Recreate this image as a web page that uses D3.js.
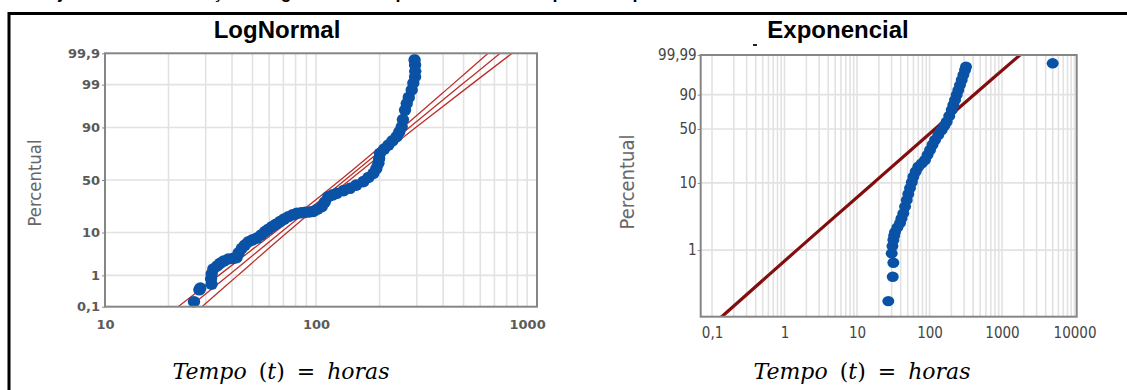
<!DOCTYPE html>
<html>
<head>
<meta charset="utf-8">
<script src="https://d3js.org/d3.v7.min.js"></script>
<style>
body { margin: 0; background: #fff; }
svg { display: block; }
.eixoL .tick text { font-family: "DejaVu Sans", sans-serif; font-size: 13px; font-weight: 600; fill: #5a5a5a; }
.eixoR .tick text { font-family: "DejaVu Sans Condensed", "DejaVu Sans", sans-serif; font-stretch: condensed; font-size: 15px; fill: #444; }
.tick line { stroke: #888; }
</style>
</head>
<body>
<script>
// LogNormal: pontos (tempo em horas, percentual)
var lnTempo = [26.4, 28.0, 28.3, 32.0, 31.8, 32.0, 32.6, 34.0, 35.1, 36.5, 38.4, 40.5, 42.0, 43.0, 44.5, 46.0,
    47.8, 50.0, 52.4, 55.0, 57.3, 59.5, 61.7, 64.5, 67.5, 70.5, 73.9, 77.5, 81.0, 85.0, 88.7, 93.0, 97.1,
    101.5, 106.4, 110.0, 114.3, 120.0, 125.3, 135.0, 144.8, 155.0, 167.5, 177.0, 187.0, 193.0, 197.4, 199.0,
    201.0, 210.0, 220.0, 230.0, 241.0, 248.0, 254.6, 258.0, 264.0, 269.0, 275.0, 284.0, 289.0, 294.6, 295.0,
    294.6, 293.0];
var lnPerc = [0.15, 0.37, 0.42, 0.55, 0.8, 1.1, 1.5, 1.8, 2.1, 2.4, 2.7, 2.8, 2.9, 3.8, 4.8, 5.6,
    6.6, 7.2, 7.8, 9.0, 10.4, 11.5, 12.7, 14.0, 15.5, 17.0, 18.5, 19.8, 20.8, 21.2, 21.5, 21.8, 22.2,
    23.8, 25.7, 29.5, 34.2, 35.8, 37.3, 39.8, 42.0, 45.0, 48.4, 52.5, 56.5, 61.0, 65.8, 70.0,
    74.2, 77.5, 80.3, 83.0, 85.5, 88.0, 90.3, 93.0, 95.6, 96.9, 97.8, 98.6, 99.1, 99.41, 99.6,
    99.75, 99.83];

// LogNormal: reta ajustada e limites
var lnFitPerc = [0.1, 1, 10, 50, 90, 99, 99.9];
var lnFitTempo = [25.3, 38.4, 68.0, 137.2, 276.7, 490, 745];
var lnFitInf = [22.2, 34.6, 63.4, 130.4, 258, 442, 653];
var lnFitSup = [28.8, 42.6, 72.9, 144.3, 296.6, 543, 849];

var lnYTicks = [0.1, 1, 10, 50, 90, 99, 99.9];
var lnYLabels = ["0,1", "1", "10", "50", "90", "99", "99,9"];
var lnXTicks = [10, 100, 1000];

// Exponencial: pontos (tempo em horas, percentual)
var exTempo = [27.0, 31.1, 31.7, 30.1, 30.8, 31.7, 32.5, 33.4, 36.0, 39.2, 41.0, 43.5, 46.0, 48.5, 51.0, 53.8,
    57.0, 59.8, 64.5, 70.1, 78.0, 86.7, 94.0, 101.6, 110.0, 119.1, 132.0, 147.3, 160.0, 172.6, 187.0, 202.3,
    213.0, 224.7, 237.0, 249.6, 263.0, 278.0, 293.0, 309.0, 318.6, 5000];
var exPerc = [0.169, 0.395, 0.644, 0.894, 1.15, 1.42, 1.65, 1.87, 2.2, 2.56, 3.0, 3.57, 4.5, 5.62, 6.9, 8.42,
    10.2, 12.25, 14.5, 16.9, 18.8, 20.9, 24.5, 28.3, 33.0, 37.6, 43.0, 48.8, 54.0, 59.1, 66.5, 74.0,
    80.0, 85.2, 89.8, 93.3, 96.0, 97.86, 99.0, 99.57, 99.78, 99.898];

// Exponencial: reta ajustada e limites
var exFitPerc = [0.098, 1, 10, 50, 90, 99.99];
var exFitTempo = [0.136, 1.48, 16.9, 118.8, 411, 1771];
var exFitInf = [0.130, 1.41, 16.1, 113.4, 392, 1690];
var exFitSup = [0.143, 1.55, 17.7, 124.5, 431, 1855];

var exYTicks = [1, 10, 50, 90, 99.99];
var exYLabels = ["1", "10", "50", "90", "99,99"];
var exXTicks = [0.1, 1, 10, 100, 1000, 10000];
var exXLabels = ["0,1", "1", "10", "100", "1000", "10000"];

var width = 1127, height = 390;
var azul = "#0a52a5";

var svg = d3.select("body").append("svg")
    .attr("width", width)
    .attr("height", height);

// inversa da normal (Acklam)
function probit(p) {
    var a = [-3.969683028665376e+01, 2.209460984245205e+02, -2.759285104469687e+02, 1.383577518672690e+02, -3.066479806614716e+01, 2.506628277459239e+00];
    var b = [-5.447609879822406e+01, 1.615858368580409e+02, -1.556989798598866e+02, 6.680131188771972e+01, -1.328068155288572e+01];
    var c = [-7.784894002430293e-03, -3.223964580411365e-01, -2.400758277161838e+00, -2.549732539343734e+00, 4.374664141464968e+00, 2.938163982698783e+00];
    var d = [7.784695709041462e-03, 3.224671290700398e-01, 2.445134137142996e+00, 3.754408661907416e+00];
    var q, r;
    if (p < 0.02425) {
        q = Math.sqrt(-2 * Math.log(p));
        return (((((c[0]*q+c[1])*q+c[2])*q+c[3])*q+c[4])*q+c[5]) / ((((d[0]*q+d[1])*q+d[2])*q+d[3])*q+1);
    }
    if (p > 1 - 0.02425) {
        q = Math.sqrt(-2 * Math.log(1 - p));
        return -(((((c[0]*q+c[1])*q+c[2])*q+c[3])*q+c[4])*q+c[5]) / ((((d[0]*q+d[1])*q+d[2])*q+d[3])*q+1);
    }
    q = p - 0.5; r = q * q;
    return (((((a[0]*r+a[1])*r+a[2])*r+a[3])*r+a[4])*r+a[5])*q / (((((b[0]*r+b[1])*r+b[2])*r+b[3])*r+b[4])*r+1);
}
// escala do papel exponencial/weibull
function weib(p) { return Math.log(-Math.log(1 - p)); }

// moldura e legenda cortada no topo (so aparecem as pernas das letras)
svg.append("text")
    .attr("x", -44).attr("y", -2)
    .style("font-family", "Liberation Sans, Arial, sans-serif")
    .style("font-weight", "bold").style("font-size", "18px")
    .text("Figura 8 – Ajuste das distribuições LogNormal e Exponencial aos tempos de reparo");
svg.append("line").attr("x1", 9).attr("x2", 9).attr("y1", 12).attr("y2", height)
    .style("stroke", "#000").style("stroke-width", 3);
svg.append("line").attr("x1", 8).attr("x2", width).attr("y1", 13.5).attr("y2", 13.5)
    .style("stroke", "#000").style("stroke-width", 3);

var defs = svg.append("defs");

function painel(cfg) {
    var g = svg.append("g");
    var x = cfg.x, y = cfg.y;
    var x0 = x.range()[0], x1 = x.range()[1], yb = y.range()[0], yt = y.range()[1];

    defs.append("clipPath").attr("id", cfg.id)
        .append("rect").attr("x", x0).attr("y", yt).attr("width", x1 - x0).attr("height", yb - yt);

    // grade vertical
    g.selectAll("line.gv")
        .data(x.ticks().filter(function (d) { return d >= cfg.gridMin && x(d) < x1 - 1; }))
        .enter().append("line")
        .attr("x1", function (d) { return x(d); })
        .attr("x2", function (d) { return x(d); })
        .attr("y1", yt).attr("y2", yb)
        .style("stroke", "#e2e2e2").style("stroke-width", 1.6);

    // grade horizontal
    g.selectAll("line.gh")
        .data(cfg.yGrid)
        .enter().append("line")
        .attr("x1", x0).attr("x2", x1)
        .attr("y1", function (d) { return y(cfg.tr(d / 100)); })
        .attr("y2", function (d) { return y(cfg.tr(d / 100)); })
        .style("stroke", "#e2e2e2").style("stroke-width", 1.6);

    var linha = d3.line()
        .x(function (d) { return x(d[0]); })
        .y(function (d) { return y(cfg.tr(d[1] / 100)); })
        .curve(d3.curveCatmullRom);

    var ajuste = g.append("g").attr("clip-path", "url(#" + cfg.id + ")");
    if (cfg.tubo) {
        var area = d3.area()
            .x0(function (d) { return x(d[0]); })
            .x1(function (d) { return x(d[2]); })
            .y(function (d) { return y(cfg.tr(d[1] / 100)); })
            .curve(d3.curveCatmullRom);
        ajuste.append("path")
            .datum(cfg.fitPerc.map(function (p, i) { return [cfg.fitInf[i], p, cfg.fitSup[i]]; }))
            .attr("d", area)
            .style("fill", "#efc2c2").style("stroke", "#8b1212").style("stroke-width", 1.3);
        ajuste.append("path")
            .datum(cfg.fitPerc.map(function (p, i) { return [cfg.fitTempo[i], p]; }))
            .attr("d", linha)
            .style("fill", "none").style("stroke", "#7a0a0a").style("stroke-width", 1.6);
    } else {
        [cfg.fitInf, cfg.fitTempo, cfg.fitSup].forEach(function (serie) {
            ajuste.append("path")
                .datum(cfg.fitPerc.map(function (p, i) { return [serie[i], p]; }))
                .attr("d", linha)
                .style("fill", "none").style("stroke", "#bd2f2a").style("stroke-width", 1.3);
        });
    }

    // pontos
    g.selectAll("ellipse.pt")
        .data(cfg.tempo.map(function (t, i) { return [t, cfg.perc[i]]; }))
        .enter().append("ellipse")
        .attr("cx", function (d) { return x(d[0]); })
        .attr("cy", function (d) { return y(cfg.tr(d[1] / 100)); })
        .attr("rx", cfg.rx).attr("ry", cfg.ry)
        .style("fill", azul);

    // moldura do grafico
    g.append("rect")
        .attr("x", x0).attr("y", yt).attr("width", x1 - x0).attr("height", yb - yt)
        .style("fill", "none").style("stroke", "#868686").style("stroke-width", 2);

    // eixos
    var ey = g.append("g").attr("class", cfg.cls)
        .attr("transform", "translate(" + x0 + ",0)")
        .call(d3.axisLeft(y)
            .tickValues(cfg.yTicks.map(function (p) { return cfg.tr(p / 100); }))
            .tickFormat(function (d, i) { return cfg.yLabels[i]; })
            .tickSize(3).tickPadding(cfg.yPad));
    ey.select(".domain").remove();

    var ex = g.append("g").attr("class", cfg.cls)
        .attr("transform", "translate(0," + yb + ")")
        .call(d3.axisBottom(x)
            .tickValues(cfg.xTicks)
            .tickFormat(function (d, i) { return cfg.xLabels[i]; })
            .tickSize(0).tickPadding(cfg.xPad));
    ex.select(".domain").remove();

    // titulo
    g.append("text")
        .attr("x", cfg.titX).attr("y", 38)
        .attr("text-anchor", "middle")
        .style("font-family", "Liberation Sans, Arial, sans-serif")
        .style("font-weight", "bold").style("font-size", "24px")
        .text(cfg.titulo);

    // rotulo vertical
    g.append("text")
        .attr("transform", "translate(" + cfg.percX + "," + cfg.percY + ") rotate(-90)")
        .attr("text-anchor", "middle")
        .attr("textLength", cfg.percLen).attr("lengthAdjust", "spacingAndGlyphs")
        .style("font-family", "DejaVu Sans Condensed, DejaVu Sans, sans-serif")
        .style("font-size", cfg.percFs + "px").style("fill", "#666")
        .text("Percentual");

    // rotulo horizontal
    var tt = g.append("text")
        .attr("x", cfg.tempoX).attr("y", 379)
        .attr("text-anchor", "middle")
        .style("font-family", "DejaVu Serif, serif")
        .style("font-size", "22px")
        .style("word-spacing", "5px");
    tt.append("tspan").style("font-style", "italic").text("Tempo");
    tt.append("tspan").text(" (");
    tt.append("tspan").style("font-style", "italic").text("t");
    tt.append("tspan").text(") = ");
    tt.append("tspan").style("font-style", "italic").text("horas");
}

painel({
    id: "clipL", cls: "eixoL",
    x: d3.scaleLog().domain([10, 1114]).range([105, 537]),
    y: d3.scaleLinear().domain([probit(0.001), probit(0.999)]).range([306.7, 53.3]),
    tr: probit, gridMin: 10,
    yGrid: [1, 10, 50, 90, 99],
    tempo: lnTempo, perc: lnPerc,
    fitPerc: lnFitPerc, fitTempo: lnFitTempo, fitInf: lnFitInf, fitSup: lnFitSup, tubo: false,
    rx: 6.2, ry: 5.8,
    yTicks: lnYTicks, yLabels: lnYLabels, yPad: 2,
    xTicks: lnXTicks, xLabels: ["10", "100", "1000"], xPad: 13,
    titulo: "LogNormal", titX: 277,
    percX: 41, percY: 183, percLen: 87, percFs: 17,
    tempoX: 281
});

painel({
    id: "clipR", cls: "eixoR",
    x: d3.scaleLog().domain([0.0698, 10715]).range([700.7, 1076.7]),
    y: d3.scaleLinear().domain([weib(0.00098), weib(0.9999)]).range([316.7, 55]),
    tr: weib, gridMin: 0.1,
    yGrid: [1, 10, 50, 90],
    tempo: exTempo, perc: exPerc,
    fitPerc: exFitPerc, fitTempo: exFitTempo, fitInf: exFitInf, fitSup: exFitSup, tubo: true,
    rx: 6, ry: 5.2,
    yTicks: exYTicks, yLabels: exYLabels, yPad: 1,
    xTicks: exXTicks, xLabels: exXLabels, xPad: 11,
    titulo: "Exponencial", titX: 838,
    percX: 634, percY: 182, percLen: 95, percFs: 19,
    tempoX: 862
});

// pequena marca solta acima do grafico
svg.append("rect").attr("x", 753).attr("y", 44).attr("width", 4).attr("height", 2).style("fill", "#222");
</script>
</body>
</html>
